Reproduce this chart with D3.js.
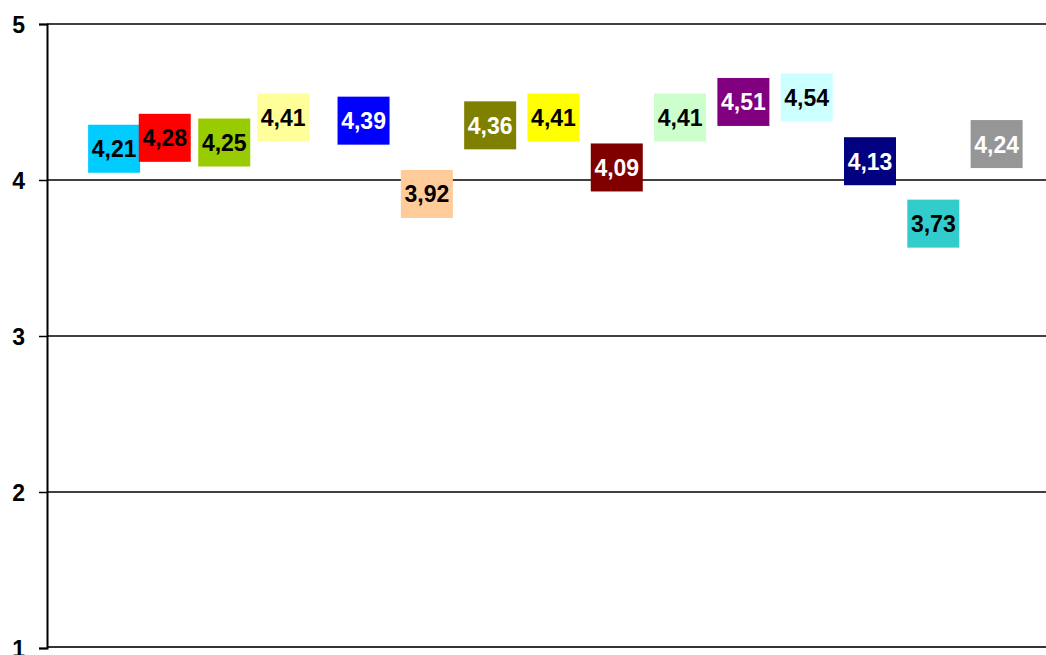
<!DOCTYPE html>
<html>
<head>
<meta charset="utf-8">
<script src="https://cdn.jsdelivr.net/npm/d3@7"></script>
<style>
  html, body { margin: 0; padding: 0; background: #fff; overflow: hidden; }
  svg { display: block; }
</style>
</head>
<body>
<svg id="chart" width="1046" height="655"></svg>
<script>
// Data
const positions = [1.06, 1.86, 2.8, 3.73, 5, 6, 7, 8, 9, 10, 11, 12, 13, 14, 15];
const values = [4.21, 4.28, 4.25, 4.41, 4.39, 3.92, 4.36, 4.41, 4.09, 4.41, 4.51, 4.54, 4.13, 3.73, 4.24];
const fills = ["#00CCFF", "#FF0000", "#99CC00", "#FFFF99", "#0000FF", "#FFCC99", "#808000", "#FFFF00",
               "#800000", "#CCFFCC", "#800080", "#CCFFFF", "#000080", "#33CCCC", "#969696"];
const textColors = ["#000", "#000", "#000", "#000", "#fff", "#000", "#fff", "#000",
                    "#fff", "#000", "#fff", "#000", "#fff", "#000", "#fff"];
const yTicks = [1, 2, 3, 4, 5];

const svg = d3.select("#chart");
const width = 1046;
const margin = { left: 47, top: 24, bottom: 648 };

const x = d3.scaleLinear().domain([0, 15.78]).range([margin.left, width]);
const y = d3.scaleLinear().domain([1, 5]).range([margin.bottom, margin.top]);

// Gridlines
svg.append("g")
  .selectAll("line")
  .data(yTicks.slice(1))
  .enter().append("line")
  .attr("x1", margin.left)
  .attr("x2", width)
  .attr("y1", (d) => y(d))
  .attr("y2", (d) => y(d))
  .attr("stroke", "#000")
  .attr("stroke-width", 1.5);

// Bottom (category) axis line
svg.append("line")
  .attr("x1", margin.left)
  .attr("x2", width)
  .attr("y1", y(1) - 1)
  .attr("y2", y(1) - 1)
  .attr("stroke", "#333")
  .attr("stroke-width", 2);

// Value axis
const yAxis = svg.append("g")
  .attr("transform", `translate(${margin.left},0)`)
  .call(d3.axisLeft(y).tickValues(yTicks).tickSize(8).tickPadding(14).tickFormat(d3.format("d")));

yAxis.attr("font-size", null).attr("font-family", null);
yAxis.select(".domain").attr("stroke", "#000").attr("stroke-width", 2);
yAxis.selectAll(".tick line").attr("stroke", "#000").attr("stroke-width", 1.5);
yAxis.selectAll(".tick text")
  .attr("fill", "#000")
  .attr("dy", "0.38em")
  .style("font-family", "'Liberation Sans', Arial, sans-serif")
  .style("font-weight", "bold")
  .style("font-size", "23px");

// Labels with coloured boxes
const boxW = 52, boxH = 48;
const labels = svg.append("g")
  .selectAll("g")
  .data(values)
  .enter().append("g")
  .attr("transform", (d, i) => `translate(${x(positions[i])},${y(d) + 1.5})`);

labels.append("rect")
  .attr("x", -boxW / 2)
  .attr("y", -boxH / 2)
  .attr("width", boxW)
  .attr("height", boxH)
  .attr("fill", (d, i) => fills[i]);

labels.append("text")
  .attr("text-anchor", "middle")
  .attr("dy", "0.37em")
  .style("font-family", "'Liberation Sans', Arial, sans-serif")
  .style("font-weight", "bold")
  .style("font-size", "23px")
  .attr("fill", (d, i) => textColors[i])
  .text((d) => d3.format(".2f")(d).replace(".", ","));
</script>
</body>
</html>
